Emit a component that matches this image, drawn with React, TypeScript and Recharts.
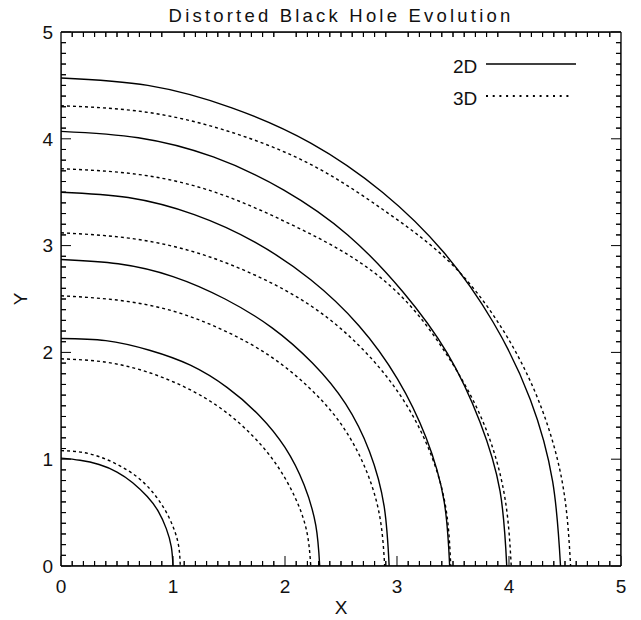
import { LineChart, Line, XAxis, YAxis, Legend, Label } from "recharts";

type Pair = [number, number];

// Horizon contours (x, y) at six times; 2D run drawn solid, 3D run dotted.
const ring2D_1: Pair[] = [[0, 1.01], [0.17, 0.99], [0.34, 0.95], [0.5, 0.88], [0.64, 0.78], [0.77, 0.65], [0.87, 0.51], [0.94, 0.35], [0.985, 0.18], [1.0, 0]];
const ring2D_2: Pair[] = [[0, 2.13], [0.4, 2.11], [0.79, 2.02], [1.155, 1.88], [1.485, 1.67], [1.77, 1.41], [2.0, 1.11], [2.17, 0.76], [2.275, 0.38], [2.31, 0]];
const ring2D_3: Pair[] = [[0, 2.87], [0.51, 2.83], [1.0, 2.71], [1.465, 2.5], [1.885, 2.23], [2.245, 1.9], [2.54, 1.52], [2.755, 1.07], [2.885, 0.56], [2.93, 0]];
const ring2D_4: Pair[] = [[0, 3.5], [0.6, 3.45], [1.19, 3.29], [1.735, 3.03], [2.23, 2.68], [2.66, 2.25], [3.005, 1.75], [3.26, 1.2], [3.42, 0.61], [3.47, 0]];
const ring2D_5: Pair[] = [[0, 4.07], [0.69, 4.01], [1.36, 3.83], [1.99, 3.52], [2.56, 3.1], [3.05, 2.57], [3.45, 1.99], [3.74, 1.35], [3.92, 0.7], [3.98, 0]];
const ring2D_6: Pair[] = [[0, 4.57], [0.775, 4.5], [1.525, 4.29], [2.23, 3.96], [2.87, 3.5], [3.415, 2.94], [3.86, 2.28], [4.19, 1.56], [4.39, 0.79], [4.46, 0]];

const ring3D_1: Pair[] = [[0, 1.08], [0.185, 1.065], [0.364, 1.015], [0.53, 0.935], [0.685, 0.83], [0.815, 0.695], [0.92, 0.54], [1.0, 0.37], [1.05, 0.19], [1.065, 0]];
const ring3D_2: Pair[] = [[0, 1.94], [0.39, 1.91], [0.76, 1.82], [1.115, 1.67], [1.435, 1.47], [1.71, 1.22], [1.93, 0.94], [2.095, 0.63], [2.195, 0.32], [2.23, 0]];
const ring3D_3: Pair[] = [[0, 2.53], [0.5, 2.49], [0.99, 2.39], [1.445, 2.21], [1.86, 1.97], [2.215, 1.67], [2.5, 1.33], [2.715, 0.92], [2.845, 0.47], [2.89, 0]];
const ring3D_4: Pair[] = [[0, 3.12], [0.605, 3.07], [1.19, 2.94], [1.74, 2.72], [2.24, 2.43], [2.665, 2.06], [3.015, 1.62], [3.27, 1.13], [3.43, 0.58], [3.48, 0]];
const ring3D_5: Pair[] = [[0, 3.72], [0.7, 3.665], [1.375, 3.5], [2.01, 3.22], [2.585, 2.9], [3.08, 2.48], [3.48, 1.92], [3.78, 1.32], [3.96, 0.66], [4.02, 0]];
const ring3D_6: Pair[] = [[0, 4.31], [0.79, 4.245], [1.555, 4.05], [2.275, 3.735], [2.925, 3.3], [3.485, 2.83], [3.94, 2.22], [4.275, 1.52], [4.48, 0.76], [4.55, 0]];

const rings2D = [ring2D_1, ring2D_2, ring2D_3, ring2D_4, ring2D_5, ring2D_6];
const rings3D = [ring3D_1, ring3D_2, ring3D_3, ring3D_4, ring3D_5, ring3D_6];

const AXIS_DOMAIN: [number, number] = [0, 5];
const majorTicks = [0, 1, 2, 3, 4, 5];
const minorTicks = [
  0.1, 0.2, 0.3, 0.4, 0.5, 0.6, 0.7, 0.8, 0.9,
  1.1, 1.2, 1.3, 1.4, 1.5, 1.6, 1.7, 1.8, 1.9,
  2.1, 2.2, 2.3, 2.4, 2.5, 2.6, 2.7, 2.8, 2.9,
  3.1, 3.2, 3.3, 3.4, 3.5, 3.6, 3.7, 3.8, 3.9,
  4.1, 4.2, 4.3, 4.4, 4.5, 4.6, 4.7, 4.8, 4.9,
];

const TITLE = "Distorted Black Hole Evolution";
const INK = "#000";
const TEXT = "#111";
const FONT = '"Liberation Sans", Arial, sans-serif';
const DOTTED = "3 3";

// plot box is 560 x 534 px for 5 x 5 units; short ticks are 5 px long
const PLOT_W = 560;
const PLOT_H = 534;
const MINOR_DX = (5 / PLOT_W) * 5;
const MINOR_DY = (5 / PLOT_H) * 5;

const toPoints = (pairs: Pair[]) => pairs.map(([x, y]) => ({ x, y }));
const noLabel = () => "";

// short tenth ticks drawn as a comb running along each edge of the box
const combBottom = minorTicks.flatMap((v) => [{ x: v, y: 0 }, { x: v, y: MINOR_DY }, { x: v, y: 0 }]);
const combTop = minorTicks.flatMap((v) => [{ x: v, y: 5 }, { x: v, y: 5 - MINOR_DY }, { x: v, y: 5 }]);
const combLeft = minorTicks.flatMap((v) => [{ x: 0, y: v }, { x: MINOR_DX, y: v }, { x: 0, y: v }]);
const combRight = minorTicks.flatMap((v) => [{ x: 5, y: v }, { x: 5 - MINOR_DX, y: v }, { x: 5, y: v }]);
const combs = [combBottom, combTop, combLeft, combRight];

const tickFont = { fontSize: 19, fontFamily: FONT, fill: TEXT };
const frameLine = { stroke: INK, strokeWidth: 1.3 };
const tickStroke = { stroke: INK, strokeWidth: 1 };

const numberAxis = {
  type: "number" as const,
  domain: AXIS_DOMAIN,
  allowDataOverflow: true,
  interval: 0 as const,
  ticks: majorTicks,
  tickLine: tickStroke,
  axisLine: frameLine,
  tickSize: -10,
};

function YTitle({ viewBox }: any) {
  const cx = viewBox.x + viewBox.width - 41;
  const cy = viewBox.y + viewBox.height / 2;
  return (
    <text
      x={cx}
      y={cy}
      transform={`rotate(-90, ${cx}, ${cy})`}
      textAnchor="middle"
      dominantBaseline="central"
      fontSize={19}
      fontFamily={FONT}
      fill={TEXT}
    >
      Y
    </text>
  );
}

function RunLegend({ payload }: any) {
  const seen = new Set<string>();
  const entries = (payload || []).filter((p: any) => {
    if (p.value !== "2D" && p.value !== "3D") return false;
    if (seen.has(p.value)) return false;
    seen.add(p.value);
    return true;
  });
  return (
    <svg width={150} height={70}>
      {entries.map((p: any, i: number) => {
        const dotted = p.value === "3D";
        const lineY = 14 + i * 32;
        return (
          <g key={p.value}>
            <text x={13} y={lineY + 9} fontSize={19} fontFamily={FONT} fill={TEXT}>
              {p.value}
            </text>
            <line
              x1={46}
              x2={dotted ? 133 : 136}
              y1={lineY}
              y2={lineY}
              stroke={INK}
              strokeWidth={dotted ? 1.8 : 1.4}
              strokeDasharray={dotted ? "2 4.7" : undefined}
            />
          </g>
        );
      })}
    </svg>
  );
}

export default function App() {
  return (
    <div style={{ position: "absolute", left: 0, top: 0, width: 641, height: 620, background: "#fff" }}>
      <svg width={641} height={30} style={{ position: "absolute", left: 0, top: 0 }}>
        <text x={341} y={21.5} textAnchor="middle" fontSize={18.5} letterSpacing={3.2} fontFamily={FONT} fill={TEXT}>
          {TITLE}
        </text>
      </svg>
      <LineChart
        width={641}
        height={620}
        margin={{ top: 32, right: 20, bottom: 54, left: 61 }}
        style={{ position: "absolute", left: 0, top: 0 }}
      >
        {/* whole-number ticks on all sides, labelled on bottom and left */}
        <XAxis {...numberAxis} xAxisId="bottom" orientation="bottom" dataKey="x" height={0.001} tickMargin={23.5} tick={tickFont}>
          <Label value="X" position="bottom" offset={35} fontSize={19} fontFamily={FONT} fill={TEXT} />
        </XAxis>
        <XAxis {...numberAxis} xAxisId="top" orientation="top" height={0.001} tickFormatter={noLabel} />
        <YAxis {...numberAxis} yAxisId="left" orientation="left" dataKey="y" width={0.001} tickMargin={18} tick={tickFont} label={<YTitle />} />
        <YAxis {...numberAxis} yAxisId="right" orientation="right" width={0.001} tickFormatter={noLabel} />

        <Legend
          layout="vertical"
          align="center"
          verticalAlign="middle"
          wrapperStyle={{ left: 440, top: 50, width: 150, height: 70 }}
          content={<RunLegend />}
        />

        {combs.map((comb, i) => (
          <Line
            key={`comb-${i}`}
            xAxisId="bottom"
            yAxisId="left"
            name="ticks"
            legendType="none"
            data={comb}
            dataKey="y"
            type="linear"
            stroke={INK}
            strokeWidth={1}
            dot={false}
            activeDot={false}
            isAnimationActive={false}
          />
        ))}
        {rings2D.map((ring, i) => (
          <Line
            key={`2d-${i}`}
            xAxisId="bottom"
            yAxisId="left"
            name="2D"
            data={toPoints(ring)}
            dataKey="y"
            type="natural"
            stroke={INK}
            strokeWidth={1.4}
            dot={false}
            activeDot={false}
            isAnimationActive={false}
          />
        ))}
        {rings3D.map((ring, i) => (
          <Line
            key={`3d-${i}`}
            xAxisId="bottom"
            yAxisId="left"
            name="3D"
            data={toPoints(ring)}
            dataKey="y"
            type="natural"
            stroke={INK}
            strokeWidth={1.4}
            strokeDasharray={DOTTED}
            dot={false}
            activeDot={false}
            isAnimationActive={false}
          />
        ))}
      </LineChart>
    </div>
  );
}
